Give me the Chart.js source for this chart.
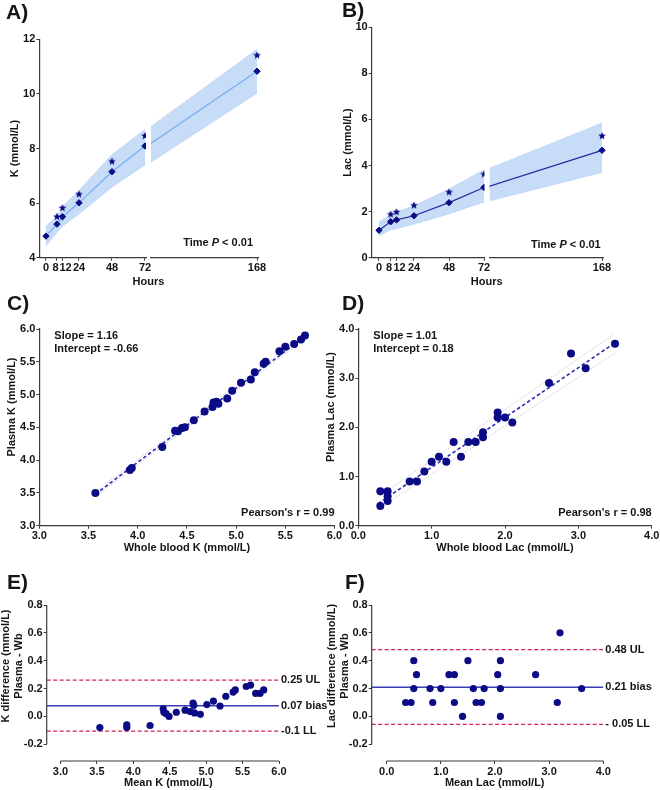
<!DOCTYPE html>
<html><head><meta charset="utf-8">
<script src="https://cdn.jsdelivr.net/npm/chart.js@4.4.1/dist/chart.umd.min.js"></script>
<style>
html,body{margin:0;padding:0;background:#fff;}
#wrap{position:relative;width:660px;height:790px;overflow:hidden;background:#fff;}
#wrap canvas{position:absolute;left:0;top:0;}
</style></head><body>
<div id="wrap">
<canvas id="cA1" width="660" height="790"></canvas>
<canvas id="cA2" width="660" height="790"></canvas>
<canvas id="cB1" width="660" height="790"></canvas>
<canvas id="cB2" width="660" height="790"></canvas>
<canvas id="cC" width="660" height="790"></canvas>
<canvas id="cD" width="660" height="790"></canvas>
<canvas id="cE" width="660" height="790"></canvas>
<canvas id="cF" width="660" height="790"></canvas>
</div>
<script>
// ---------------- DATA ----------------
const hours = [0, 8, 12, 24, 48, 72, 168];
const hourTicksLeft = [0, 8, 12, 24, 48, 72];
const hourTicksRight = [168];

const kMean  = [4.79, 5.23, 5.50, 6.01, 7.15, 8.09, 10.83];
const kUpper = [5.16, 5.50, 5.87, 6.47, 7.78, 8.70, 11.64];
const kLower = [4.43, 4.92, 5.15, 5.60, 6.58, 7.40, 10.02];
const kStar  = [null, 5.50, 5.82, 6.32, 7.52, 8.46, 11.41];

const lacMean  = [1.19, 1.56, 1.64, 1.82, 2.39, 3.05, 4.66];
const lacUpper = [1.55, 1.88, 1.98, 2.25, 2.98, 3.82, 5.85];
const lacLower = [0.95, 1.20, 1.26, 1.45, 1.90, 2.42, 3.70];
const lacStar  = [null, 1.88, 1.98, 2.27, 2.84, 3.62, 5.28];

const yTicksA = [4, 6, 8, 10, 12];
const yTicksB = [0, 2, 4, 6, 8, 10];

const wbK = [3.57, 3.92, 3.94, 4.25, 4.38, 4.41, 4.45, 4.48, 4.57, 4.68, 4.76, 4.77, 4.80, 4.82, 4.91, 4.96, 5.05, 5.15, 5.19, 5.28, 5.30, 5.44, 5.50, 5.59, 5.66, 5.70];
const plK = [3.50, 3.85, 3.88, 4.20, 4.45, 4.44, 4.49, 4.50, 4.61, 4.74, 4.81, 4.88, 4.89, 4.86, 4.94, 5.06, 5.18, 5.23, 5.34, 5.47, 5.50, 5.66, 5.73, 5.77, 5.84, 5.90];
const regKx = [3.57, 5.71];
const regKy = [3.48, 5.90];
const ciKup = [3.52, 5.94];
const ciKlo = [3.44, 5.86];
const ticksC = [3.0, 3.5, 4.0, 4.5, 5.0, 5.5, 6.0];

const wbLac = [0.3, 0.3, 0.4, 0.4, 0.4, 0.7, 0.8, 0.9, 1.0, 1.1, 1.2, 1.3, 1.4, 1.5, 1.6, 1.7, 1.7, 1.9, 1.9, 2.0, 2.1, 2.6, 2.9, 3.1, 3.5];
const plLac = [0.7, 0.4, 0.7, 0.6, 0.5, 0.9, 0.9, 1.1, 1.3, 1.4, 1.3, 1.7, 1.4, 1.7, 1.7, 1.8, 1.9, 2.3, 2.2, 2.2, 2.1, 2.9, 3.5, 3.2, 3.7];
const regLx = [0.27, 3.5];
const regLy = [0.45, 3.72];
const ciLup = [0.58, 3.91];
const ciLlo = [0.33, 3.51];
const ticksD = [0.0, 1.0, 2.0, 3.0, 4.0];

const meanK = [3.54, 3.91, 3.91, 4.23, 4.41, 4.42, 4.45, 4.49, 4.59, 4.71, 4.78, 4.82, 4.83, 4.84, 4.92, 5.01, 5.10, 5.19, 5.27, 5.37, 5.40, 5.55, 5.61, 5.68, 5.74, 5.79];
const diffK = [-0.08, -0.06, -0.08, -0.065, 0.055, 0.03, 0.02, 0.00, 0.03, 0.045, 0.035, 0.095, 0.08, 0.025, 0.015, 0.085, 0.11, 0.075, 0.145, 0.175, 0.19, 0.215, 0.225, 0.165, 0.165, 0.19];
const limitsK = [0.26, 0.077, -0.105];
const limitLabelsK = ['0.25 UL', '0.07 bias', '-0.1 LL'];

const meanLac = [0.35, 0.45, 0.5, 0.5, 0.55, 0.8, 0.85, 1.0, 1.15, 1.25, 1.25, 1.4, 1.5, 1.6, 1.65, 1.75, 1.8, 2.05, 2.1, 2.1, 2.1, 2.75, 3.15, 3.2, 3.6];
const diffLac = [0.1, 0.1, 0.4, 0.2, 0.3, 0.2, 0.1, 0.2, 0.3, 0.3, 0.1, 0.0, 0.4, 0.2, 0.1, 0.1, 0.2, 0.3, 0.4, 0.2, 0.0, 0.3, 0.1, 0.6, 0.2];
const limitsLac = [0.48, 0.21, -0.057];
const limitLabelsLac = ['0.48 UL', '0.21 bias', '- 0.05 LL'];

const yTicksEF = [-0.2, 0.0, 0.2, 0.4, 0.6, 0.8];
const xTicksE = [3.0, 3.5, 4.0, 4.5, 5.0, 5.5, 6.0];
const xTicksF = [0.0, 1.0, 2.0, 3.0, 4.0];

// ---------------- STYLE ----------------
const FONT = '"Liberation Sans", Arial, Helvetica, sans-serif';
const AX = '#3a3a3a';
const TXT = '#151515';
const NAVY = '#0b0b86';
const BAND = '#c6dcf7';
const EDGE = '#a8c6ef';
const REG = '#2b2bb5';
const CI = '#bfbfbf';
const LIM = '#d4205e';
const BIAS = '#3c3cb4';

Chart.defaults.font.family = FONT;
Chart.defaults.font.size = 11;
Chart.defaults.font.weight = 'bold';
Chart.defaults.color = TXT;
Chart.defaults.animation = false;
Chart.defaults.responsive = false;
Chart.defaults.plugins.legend.display = false;
Chart.defaults.plugins.tooltip.enabled = false;

function makeStar(r, color) {
  const s = Math.ceil(r * 2 + 2);
  const c = document.createElement('canvas');
  c.width = s; c.height = s;
  const g = c.getContext('2d');
  g.fillStyle = color;
  g.beginPath();
  for (let i = 0; i < 10; i++) {
    const a = -Math.PI / 2 + i * Math.PI / 5;
    const rr = i % 2 ? r * 0.45 : r;
    g.lineTo(s / 2 + rr * Math.cos(a), s / 2 + rr * Math.sin(a));
  }
  g.closePath(); g.fill();
  return c;
}
const STAR = makeStar(4, NAVY);

// decoration plugin: axis segments and free text
const deco = {
  id: 'deco',
  beforeDatasetsDraw(chart, args, o) {
    const ctx = chart.ctx, ca = chart.chartArea;
    ctx.save();
    ctx.strokeStyle = AX; ctx.lineWidth = 1.2;
    (o.segs || []).forEach(s => {
      ctx.beginPath();
      if (s.axis === 'x') {
        const sx = chart.scales.x;
        ctx.moveTo(sx.getPixelForValue(s.from), ca.bottom);
        ctx.lineTo(sx.getPixelForValue(s.to), ca.bottom);
      } else {
        const sy = chart.scales.y;
        ctx.moveTo(ca.left, sy.getPixelForValue(s.from));
        ctx.lineTo(ca.left, sy.getPixelForValue(s.to));
      }
      ctx.stroke();
    });
    ctx.restore();
  },
  afterDraw(chart, args, o) {
    const ctx = chart.ctx, ca = chart.chartArea;
    (o.texts || []).forEach(t => {
      ctx.save();
      ctx.fillStyle = t.color || TXT;
      ctx.textBaseline = 'middle';
      const size = t.size || 11;
      let x = t.x !== undefined ? t.x : ca.right + (t.dx || 0);
      let y = t.yv !== undefined ? chart.scales.y.getPixelForValue(t.yv) : t.y;
      ctx.translate(x, y);
      if (t.rot) ctx.rotate(-Math.PI / 2);
      if (t.parts) {
        let w = 0;
        t.parts.forEach(p => { ctx.font = `${p[1]} bold ${size}px ${FONT}`; w += ctx.measureText(p[0]).width; });
        let cx = t.align === 'right' ? -w : (t.align === 'center' ? -w / 2 : 0);
        ctx.textAlign = 'left';
        t.parts.forEach(p => { ctx.font = `${p[1]} bold ${size}px ${FONT}`; ctx.fillText(p[0], cx, 0); cx += ctx.measureText(p[0]).width; });
      } else {
        ctx.font = `bold ${size}px ${FONT}`;
        ctx.textAlign = t.align || 'left';
        ctx.fillText(t.text, 0, 0);
      }
      ctx.restore();
    });
  }
};
Chart.register(deco);

function pad(g, W, H) {
  return {left: g.L - W, right: 660 - g.R, top: g.T, bottom: 790 - g.B - H};
}
function xAxis(o) {
  return {
    type: 'linear', position: 'bottom', min: o.min, max: o.max,
    grid: {display: true, drawOnChartArea: false, drawTicks: true, tickLength: 3, color: AX, lineWidth: 1},
    border: {display: o.border !== false, color: AX, width: 1.2},
    ticks: {autoSkip: false, maxRotation: 0, minRotation: 0, padding: 1, color: TXT,
            font: {size: 11, weight: 'bold'}, callback: o.fmt},
    afterBuildTicks: s => { s.ticks = o.ticks.map(v => ({value: v})); },
    afterFit: s => { s.height = o.H; s.paddingLeft = 0; s.paddingRight = 0; },
    title: o.title ? {display: true, text: o.title, color: TXT, font: {size: 11, weight: 'bold'}, padding: {top: 0, bottom: o.tpad}} : {display: false}
  };
}
function yAxis(o) {
  if (o.hidden) return {type: 'linear', min: o.min, max: o.max, display: false};
  return {
    type: 'linear', position: 'left', min: o.min, max: o.max,
    grid: {display: true, drawOnChartArea: false, drawTicks: true, tickLength: 3, color: AX, lineWidth: 1},
    border: {display: o.border !== false, color: AX, width: 1.2},
    ticks: {autoSkip: false, padding: 1, color: TXT, font: {size: 11, weight: 'bold'}, callback: o.fmt},
    afterBuildTicks: s => { s.ticks = o.ticks.map(v => ({value: v})); },
    afterFit: s => { s.width = o.W; s.paddingTop = 0; s.paddingBottom = 0; },
    title: o.title ? {display: true, text: o.title, color: TXT, font: {size: 11, weight: 'bold'}, padding: {top: o.tpad, bottom: 0}} : {display: false}
  };
}
const int = v => String(v);
// the 8 and 12 hour labels sit side by side ("8" nudged left, "12" nudged right) as in the original
const hourFmt = v => v === 8 ? '8 ' : (v === 12 ? '  12' : String(v));
const f1 = v => Number(v).toFixed(1);
const zip = (xs, ys) => xs.map((x, i) => ({x, y: ys[i]}));

// ---------------- TIME COURSE PANELS ----------------
function pts(keep, ys) {
  const out = [];
  hours.forEach((h, i) => { if (ys[i] !== null && keep(h)) out.push({x: h, y: ys[i]}); });
  return out;
}
function timeSets(keep, mean, upper, lower, star, lineColor, clip) {
  const c = clip === undefined ? undefined : clip;
  return [
    {data: pts(keep, star), showLine: false, pointStyle: STAR, pointRadius: 4, order: 0, clip: c},
    {data: pts(keep, mean), showLine: true, borderColor: lineColor, borderWidth: 1.2, pointStyle: 'rectRot',
     pointRadius: 3.2, pointBackgroundColor: NAVY, pointBorderColor: NAVY, pointBorderWidth: 1, order: 1, clip: c},
    {data: pts(keep, upper), showLine: true, borderColor: EDGE, borderWidth: 1, borderDash: [1, 1.5], pointRadius: 0, fill: false, order: 2, clip: c},
    {data: pts(keep, lower), showLine: true, borderColor: EDGE, borderWidth: 1, borderDash: [1, 1.5], pointRadius: 0,
     fill: {target: 2}, backgroundColor: BAND, order: 4, clip: c}
  ];
}
const left = h => h <= 72, right = h => h >= 72;
const rclip = {left: 0, top: 10, right: 10, bottom: 10};

// A left
const gA1 = {L: 39.3, R: 146, T: 39.3, B: 257.7};
new Chart(document.getElementById('cA1'), {
  type: 'scatter',
  data: {datasets: timeSets(left, kMean, kUpper, kLower, kStar, '#76aef0')},
  options: {
    layout: {padding: pad(gA1, 39.3, 30)},
    scales: {
      x: xAxis({min: -4.87, max: 72.73, ticks: hourTicksLeft, fmt: hourFmt, H: 30}),
      y: yAxis({min: 4, max: 12, ticks: yTicksA, fmt: int, W: 39.3, title: 'K (mmol/L)', tpad: 7.9})
    },
    plugins: {deco: {texts: [
      {text: 'A)', x: 6, y: 13, size: 21},
      {text: 'Hours', x: 148.5, y: 282, align: 'center'},
      {parts: [['Time ', ''], ['P', 'italic'], [' < 0.01', '']], x: 253, y: 243, align: 'right'}
    ]}}
  }
});
// A right
const gA2 = {L: 151, R: 258.3, T: 39.3, B: 257.7};
new Chart(document.getElementById('cA2'), {
  type: 'scatter',
  data: {datasets: timeSets(right, kMean, kUpper, kLower, kStar, '#76aef0', rclip)},
  options: {
    layout: {padding: pad(gA2, 0, 30)},
    scales: {
      x: xAxis({min: 75.6, max: 169.1, ticks: hourTicksRight, fmt: int, H: 30}),
      y: yAxis({min: 4, max: 12, hidden: true})
    }
  }
});
// B left
const gB1 = {L: 371.7, R: 484.5, T: 27.3, B: 257.7};
new Chart(document.getElementById('cB1'), {
  type: 'scatter',
  data: {datasets: timeSets(left, lacMean, lacUpper, lacLower, lacStar, '#1e2c9e')},
  options: {
    layout: {padding: pad(gB1, 41.7, 30)},
    scales: {
      x: xAxis({min: -5.0, max: 72.34, ticks: hourTicksLeft, fmt: hourFmt, H: 30}),
      y: yAxis({min: 0, max: 10, ticks: yTicksB, fmt: int, W: 41.7, title: 'Lac (mmol/L)', tpad: 10.9})
    },
    plugins: {deco: {texts: [
      {text: 'B)', x: 342, y: 11.5, size: 21},
      {text: 'Hours', x: 486.7, y: 282, align: 'center'},
      {parts: [['Time ', ''], ['P', 'italic'], [' < 0.01', '']], x: 600.7, y: 245, align: 'right'}
    ]}}
  }
});
// B right
const gB2 = {L: 489.5, R: 603, T: 27.3, B: 257.7};
new Chart(document.getElementById('cB2'), {
  type: 'scatter',
  data: {datasets: timeSets(right, lacMean, lacUpper, lacLower, lacStar, '#1e2c9e', rclip)},
  options: {
    layout: {padding: pad(gB2, 0, 30)},
    scales: {
      x: xAxis({min: 75.1, max: 168.8, ticks: hourTicksRight, fmt: int, H: 30}),
      y: yAxis({min: 0, max: 10, hidden: true})
    }
  }
});

// ---------------- CORRELATION PANELS ----------------
function corrSets(xs, ys, rx, ry, cu, cl) {
  return [
    {data: zip(xs, ys), pointRadius: 4, backgroundColor: NAVY, borderColor: NAVY, borderWidth: 0, order: 0},
    {data: zip(rx, ry), showLine: true, borderColor: REG, borderWidth: 1.6, borderDash: [3.5, 2.5], pointRadius: 0, order: 1},
    {data: zip(rx, cu), showLine: true, borderColor: CI, borderWidth: 1, borderDash: [1, 1.5], pointRadius: 0, order: 2},
    {data: zip(rx, cl), showLine: true, borderColor: CI, borderWidth: 1, borderDash: [1, 1.5], pointRadius: 0, order: 2}
  ];
}
const gC = {L: 39.3, R: 334.5, T: 329, B: 525.7};
new Chart(document.getElementById('cC'), {
  type: 'scatter',
  data: {datasets: corrSets(wbK, plK, regKx, regKy, ciKup, ciKlo)},
  options: {
    layout: {padding: pad(gC, 39.3, 30)},
    scales: {
      x: xAxis({min: 3, max: 6, ticks: ticksC, fmt: f1, H: 30, title: 'Whole blood K (mmol/L)', tpad: 1.1}),
      y: yAxis({min: 3, max: 6, ticks: ticksC, fmt: f1, W: 39.3})
    },
    plugins: {deco: {texts: [
      {text: 'C)', x: 7, y: 304, size: 21},
      {text: 'Plasma K (mmol/L)', x: 11.7, y: 407, align: 'center', rot: true},
      {text: 'Slope = 1.16', x: 54.3, y: 336},
      {text: 'Intercept = -0.66', x: 54.3, y: 349.3},
      {text: "Pearson's r = 0.99", x: 334.5, y: 513.3, align: 'right'}
    ]}}
  }
});
const gD = {L: 358.3, R: 651.7, T: 329, B: 525.7};
new Chart(document.getElementById('cD'), {
  type: 'scatter',
  data: {datasets: corrSets(wbLac, plLac, regLx, regLy, ciLup, ciLlo)},
  options: {
    layout: {padding: pad(gD, 20, 30)},
    scales: {
      x: xAxis({min: 0, max: 4, ticks: ticksD, fmt: f1, H: 30, title: 'Whole blood Lac (mmol/L)', tpad: 1.1}),
      y: yAxis({min: 0, max: 4, ticks: ticksD, fmt: f1, W: 20})
    },
    plugins: {deco: {texts: [
      {text: 'D)', x: 342, y: 304, size: 21},
      {text: 'Plasma Lac (mmol/L)', x: 331, y: 407, align: 'center', rot: true},
      {text: 'Slope = 1.01', x: 373.3, y: 336},
      {text: 'Intercept = 0.18', x: 373.3, y: 349.3},
      {text: "Pearson's r = 0.98", x: 651.7, y: 513.3, align: 'right'}
    ]}}
  }
});

// ---------------- BLAND-ALTMAN PANELS ----------------
function baSets(xs, ys, limits, xmin, xmax) {
  const sets = [{data: zip(xs, ys), pointRadius: 3.6, backgroundColor: NAVY, borderColor: NAVY, borderWidth: 0, order: 0}];
  limits.forEach((v, i) => {
    sets.push({data: [{x: xmin, y: v}, {x: xmax, y: v}], showLine: true, pointRadius: 0,
      borderColor: i === 1 ? BIAS : LIM, borderWidth: i === 1 ? 1.5 : 1.3,
      borderDash: i === 1 ? [] : [4, 2.5], order: 1});
  });
  return sets;
}
function limitTexts(labels, limits) {
  return labels.map((t, i) => ({text: t, dx: 2, yv: limits[i]}));
}
const E_XMIN = 2.8105, E_XMAX = 6.0, EF_YMIN = -0.3199, EF_YMAX = 0.8;
const gE = {L: 46.7, R: 279, T: 605, B: 761};
new Chart(document.getElementById('cE'), {
  type: 'scatter',
  data: {datasets: baSets(meanK, diffK, limitsK, E_XMIN, E_XMAX)},
  options: {
    layout: {padding: pad(gE, 40, 20)},
    scales: {
      x: xAxis({min: E_XMIN, max: E_XMAX, ticks: xTicksE, fmt: f1, H: 20, border: false}),
      y: yAxis({min: EF_YMIN, max: EF_YMAX, ticks: yTicksEF, fmt: f1, W: 40, border: false})
    },
    plugins: {deco: {
      segs: [{axis: 'x', from: 3.0, to: 6.0}, {axis: 'y', from: -0.2, to: 0.8}],
      texts: [
        {text: 'E)', x: 7, y: 583, size: 21},
        {text: 'K difference (mmol/L)', x: 5.5, y: 666, align: 'center', rot: true},
        {text: 'Plasma - Wb', x: 18.5, y: 666, align: 'center', rot: true},
        {text: 'Mean K (mmol/L)', x: 168.3, y: 783, align: 'center'}
      ].concat(limitTexts(limitLabelsK, limitsK))
    }}
  }
});
const F_XMIN = -0.277, F_XMAX = 4.0;
const gF = {L: 371.7, R: 603.3, T: 605, B: 761};
new Chart(document.getElementById('cF'), {
  type: 'scatter',
  data: {datasets: baSets(meanLac, diffLac, limitsLac, F_XMIN, F_XMAX)},
  options: {
    layout: {padding: pad(gF, 40, 20)},
    scales: {
      x: xAxis({min: F_XMIN, max: F_XMAX, ticks: xTicksF, fmt: f1, H: 20, border: false}),
      y: yAxis({min: EF_YMIN, max: EF_YMAX, ticks: yTicksEF, fmt: f1, W: 40, border: false})
    },
    plugins: {deco: {
      segs: [{axis: 'x', from: 0.0, to: 4.0}, {axis: 'y', from: -0.2, to: 0.8}],
      texts: [
        {text: 'F)', x: 345, y: 583, size: 21},
        {text: 'Lac difference (mmol/L)', x: 332, y: 666, align: 'center', rot: true},
        {text: 'Plasma - Wb', x: 345, y: 666, align: 'center', rot: true},
        {text: 'Mean Lac (mmol/L)', x: 494.7, y: 783, align: 'center'}
      ].concat(limitTexts(limitLabelsLac, limitsLac))
    }}
  }
});
</script>
</body></html>
